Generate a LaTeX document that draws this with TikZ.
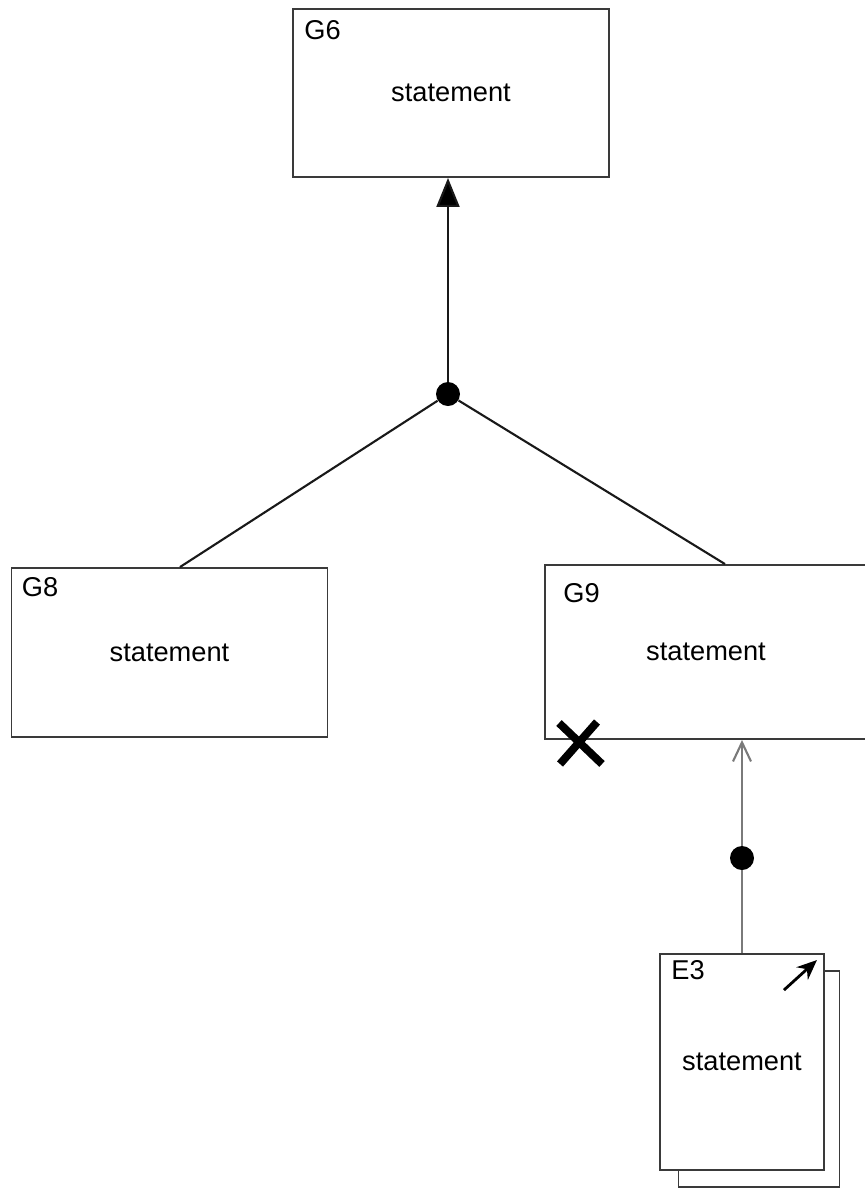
\documentclass[tikz,border=0pt]{standalone}
\usepackage{fontspec}
\setmainfont{Liberation Sans}
\usetikzlibrary{arrows.meta, positioning}
\definecolor{boxline}{HTML}{3A3A3A}
\definecolor{linkgray}{HTML}{7A7A7A}
\tikzstyle{goal} = [
  rectangle,
  minimum width=6.32cm,
  minimum height=3.36cm,
  text centered,
  draw=boxline,
  line width=1.1pt,
  inner sep=0,
  fill=white,
  font=\fontsize{15.5}{18}\selectfont
]
\tikzstyle{evidence} = [
  goal,
  minimum width=3.28cm,
  minimum height=4.32cm
]
\tikzstyle{tag} = [
  inner sep=0,
  font=\fontsize{15.5}{18}\selectfont
]
\tikzstyle{joint} = [
  circle,
  fill=black,
  inner sep=0,
  minimum size=0.48cm
]
\tikzstyle{link} = [
  line width=1.2pt,
  draw=black!90
]
\tikzstyle{arrow} = [
  link,
  -{Triangle[length=0.58cm, width=0.46cm, fill=black]}
]
\tikzstyle{greylink} = [
  line width=1.2pt,
  draw=linkgray
]
\tikzstyle{openarrow} = [
  greylink,
  -{Straight Barb[length=0.38cm, width=0.36cm]}
]
\tikzstyle{cross} = [
  line width=4.5pt,
  draw=black
]

\begin{document}
\begin{tikzpicture}[x=0.02cm, y=-0.02cm]

    \useasboundingbox (0,0) rectangle (865,1188);

    \node (g6) [goal] at (451,93) {statement};
    \node (g8) [goal, minimum height=3.38cm] at (169.5,652.5) {statement};
    \node (g9) [goal, minimum width=6.44cm, minimum height=3.48cm] at (706,652) {statement};
    \node (shadow) [evidence, minimum width=3.22cm] at (759,1079) {};
    \node (e3) [evidence] at (742,1062) {statement};

    \node (g6id) [tag, below right=0.24cm and 0.24cm of g6.north west] {G6};
    \node (g8id) [tag, below right=0.2cm and 0.22cm of g8.north west] {G8};
    \node (g9id) [tag, below right=0.38cm and 0.38cm of g9.north west] {G9};
    \node (e3id) [tag, below right=0.14cm and 0.24cm of e3.north west] {E3};

    \node (topdot) [joint] at (448,394) {};
    \node (e3dot) [joint] at (742,858) {};

    \draw [arrow] (topdot) -- (topdot |- g6.south);
    \draw [link] (topdot) -- ([xshift=0.21cm]g8.north);
    \draw [link] (topdot) -- ([xshift=0.38cm]g9.north);
    \draw [greylink] (e3.north) -- (e3dot);
    \draw [openarrow] (e3dot) -- (e3dot |- g9.south);

    % undeveloped mark
    \coordinate (xmark) at (580,743);
    \draw [cross] ([shift={(-21,-20)}]xmark) -- ([shift={(22,21)}]xmark);
    \draw [cross] ([shift={(17,-21)}]xmark) -- ([shift={(-20,21)}]xmark);

    % away marker
    \draw [line width=1.6pt, -{Stealth[length=0.4cm, width=0.34cm]}] ([shift={(-41,37)}]e3.north east) -- ([shift={(-8,7)}]e3.north east);

  \end{tikzpicture}
\end{document}
